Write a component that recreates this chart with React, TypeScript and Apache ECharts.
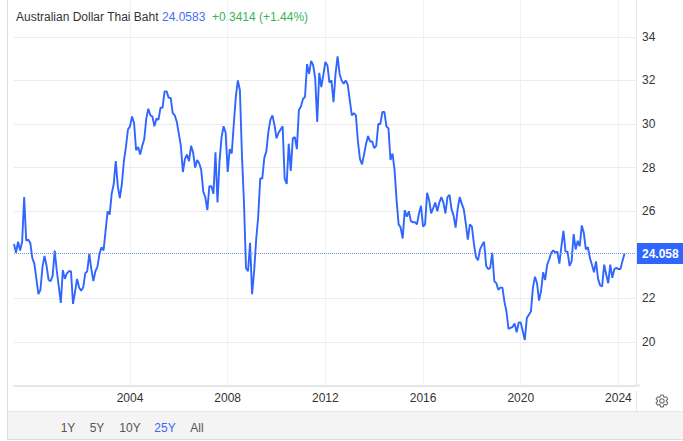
import React, { useEffect, useRef } from "react";
import * as echarts from "echarts";

const rates = [
  24.5, 24.1, 24.6, 24.2, 24.6, 26.65, 24.65, 24.7, 24.55, 23.85,
  23.6, 22.9, 22.2, 22.4, 23.45, 23.95, 23.5, 22.85, 22.8, 23.05,
  24.2, 23.3, 22.55, 21.8, 23.3, 22.9, 23.15, 23.25, 23.25, 21.75,
  22.3, 22.9, 22.5, 22.35, 22.5, 23.15, 23.25, 24.05, 23.35, 22.8,
  23.25, 23.45, 24.05, 24.35, 24.2, 25.1, 26.0, 25.85, 26.8, 27.25,
  28.3, 27.15, 26.6, 27.25, 28.3, 28.95, 29.75, 29.9, 30.35, 30.05,
  28.8, 28.95, 28.6, 29.0, 29.3, 30.25, 30.7, 30.4, 30.35, 29.9,
  30.25, 30.2, 30.75, 30.75, 31.5, 31.5, 31.2, 31.2, 30.5, 30.4,
  30.1, 29.55, 29.0, 27.8, 28.4, 28.6, 28.3, 29.0, 28.7, 28.0,
  28.35, 28.2, 27.9, 26.9, 26.65, 26.05, 27.15, 27.15, 26.8, 28.7,
  26.4, 28.3, 29.4, 29.9, 29.6, 27.8, 28.85, 28.65, 30.0, 31.25,
  32.0, 31.55, 28.6, 26.4, 23.4, 23.25, 24.55, 22.2, 23.25, 24.7,
  25.75, 27.5, 27.5, 28.45, 28.75, 29.65, 30.2, 30.4, 29.95, 29.35,
  29.6, 29.75, 29.9, 27.5, 27.25, 29.1, 27.85, 29.35, 29.4, 28.85,
  30.65, 30.8, 31.15, 31.25, 32.75, 32.3, 32.9, 32.7, 32.1, 30.1,
  32.35, 31.7, 32.25, 32.85, 32.7, 31.9, 32.0, 31.0, 32.3, 33.1,
  32.3, 32.0, 31.85, 32.0, 31.8, 31.1, 30.4, 30.5, 30.4, 29.2,
  28.4, 28.15, 28.6, 29.1, 29.45, 29.2, 29.2, 28.9, 29.0, 30.0,
  30.0, 30.55, 30.55, 29.9, 29.8, 28.35, 28.65, 27.9, 26.5, 25.4,
  25.25, 24.75, 26.05, 25.75, 26.0, 25.55, 25.5, 25.5, 25.4, 25.9,
  26.25, 25.3, 25.4, 26.85, 26.5, 25.9, 26.15, 26.4, 26.0, 26.4,
  26.65, 26.4, 25.9, 26.65, 26.75, 26.1, 25.8, 25.25, 26.1, 26.65,
  26.35, 26.1, 25.45, 24.7, 25.4, 25.3, 24.5, 23.9, 23.75, 24.25,
  24.45, 24.6, 23.5, 23.35, 23.4, 24.1, 22.8, 22.7, 22.4, 22.5,
  22.5, 21.85, 21.4, 20.6, 20.65, 20.7, 20.85, 20.45, 20.9, 20.9,
  20.5, 20.1, 21.1, 21.25, 21.4, 22.5, 23.0, 22.7, 21.9, 22.35,
  23.2, 22.85, 23.55, 23.8, 24.1, 24.2, 24.1, 24.15, 23.6, 24.4,
  25.1, 24.15, 24.15, 23.5, 23.7, 24.95, 24.25, 24.65, 24.4, 25.35,
  25.0, 24.25, 24.35, 23.85, 23.55, 23.2, 23.7, 22.9, 22.6, 22.55,
  23.55, 23.1, 22.7, 23.55, 22.95, 23.35, 23.4, 23.35, 23.35, 23.72,
  24.0583,
];
const firstYear = 1999;
const firstMonth = 3; // April, zero-based
const yearTicks = [2004, 2008, 2012, 2016, 2020, 2024];
const priceTicks = [20, 22, 26, 28, 30, 32, 34];
const lastPrice = 24.0583;
const titleParts = ["Australian Dollar Thai Baht", "24.0583", "+0.3414 (+1.44%)"];
const ranges = ["1Y", "5Y", "10Y", "25Y", "All"];
const activeRange = "25Y";

const FONT = '"Liberation Sans", Arial, sans-serif';
const BLUE = "#2f66ff";
const GEAR =
  "M19.14 12.94c.04-.3.06-.61.06-.94 0-.32-.02-.64-.07-.94l2.03-1.58c.18-.14.23-.41.12-.61l-1.92-3.32c-.12-.22-.37-.29-.59-.22l-2.39.96c-.5-.38-1.03-.7-1.62-.94l-.36-2.54c-.04-.24-.24-.41-.48-.41h-3.84c-.24 0-.43.17-.47.41l-.36 2.54c-.59.24-1.13.57-1.62.94l-2.39-.96c-.22-.08-.47 0-.59.22L2.74 8.87c-.12.21-.08.47.12.61l2.03 1.58c-.05.3-.09.63-.09.94s.02.64.07.94l-2.03 1.58c-.18.14-.23.41-.12.61l1.92 3.32c.12.22.37.29.59.22l2.39-.96c.5.38 1.03.7 1.62.94l.36 2.54c.05.24.24.41.48.41h3.84c.24 0 .44-.17.47-.41l.36-2.54c.59-.24 1.13-.56 1.62-.94l2.39.96c.22.08.47 0 .59-.22l1.92-3.32c.12-.22.07-.47-.12-.61l-2.01-1.58zM12 15.6c-1.98 0-3.6-1.62-3.6-3.6s1.62-3.6 3.6-3.6 3.6 1.62 3.6 3.6-1.62 3.6-3.6 3.6z";
echarts.graphic.registerShape("gear", echarts.graphic.extendPath(GEAR, {}) as any);

const rangeX = [68, 97, 130, 165, 197];

export default function App() {
  const ref = useRef<HTMLDivElement>(null);
  useEffect(() => {
    const chart = echarts.init(ref.current!, undefined, { renderer: "svg" });
    const line = (x1: number, y1: number, x2: number, y2: number, stroke = "#e4e4e4", lineWidth = 1) => ({
      type: "line",
      shape: { x1, y1, x2, y2 },
      style: { stroke, lineWidth },
      silent: true,
    });
    const text = (x: number, y: number, t: string, fill: string, textAlign = "left") => ({
      type: "text",
      x,
      y,
      style: { text: t, fill, font: `12px ${FONT}`, textAlign, textVerticalAlign: "middle" },
      silent: true,
    });
    chart.setOption({
      animation: false,
      backgroundColor: "#ffffff",
      grid: { left: 14, right: 47, top: 0, bottom: 55.3 },
      xAxis: {
        type: "value",
        min: 1999.25,
        max: 2024.72,
        axisLine: { lineStyle: { color: "#e6e6e6", width: 2 } },
        axisTick: { show: false, customValues: yearTicks },
        axisLabel: {
          customValues: yearTicks,
          formatter: (v: number) => String(v),
          color: "#333333",
          fontFamily: FONT,
          fontSize: 12,
          margin: 6,
        },
        splitLine: { show: true, lineStyle: { color: "#eff3f6", width: 1 } },
      },
      yAxis: {
        type: "value",
        position: "right",
        min: 18,
        max: 35.69,
        axisLine: { show: true, lineStyle: { color: "#e6e6e6", width: 1 } },
        axisTick: { show: false, customValues: priceTicks },
        axisLabel: {
          customValues: priceTicks,
          color: "#333333",
          fontFamily: FONT,
          fontSize: 12,
          margin: 6,
          padding: [0, 0, 2, 0],
        },
        splitLine: { show: true, lineStyle: { color: "#ececec", width: 1 } },
      },
      series: [
        {
          type: "line",
          data: rates.map((v, i) => [firstYear + (firstMonth + i) / 12, v]),
          showSymbol: false,
          smooth: false,
          lineStyle: { color: BLUE, width: 1.9 },
          markLine: {
            silent: true,
            symbol: "none",
            animation: false,
            lineStyle: { color: "#6f8fff", type: "dotted", width: 1, opacity: 1 },
            label: {
              position: "end",
              distance: 1,
              formatter: lastPrice.toFixed(3),
              color: "#ffffff",
              backgroundColor: BLUE,
              fontFamily: FONT,
              fontSize: 12,
              fontWeight: "bold",
              padding: [4, 6, 4, 5],
              lineHeight: 13,
              height: 13,
            },
            data: [{ yAxis: lastPrice }],
          },
        },
      ],
      graphic: [
        line(7.5, 0, 7.5, 440, "#dddddd"),
        {
          type: "rect",
          shape: { x: 8, y: 412, width: 675, height: 27 },
          style: { fill: "#f4f4f4" },
          silent: true,
        },
        line(8, 411.5, 683, 411.5, "#e6e6e6"),
        line(8, 439.5, 683, 439.5, "#dddddd"),
        line(636.5, 391, 636.5, 411, "#e6e6e6"),
        line(636, 385.5, 640, 385.5, "#e6e6e6", 2),
        text(16, 17, titleParts[0], "#333333"),
        text(162, 17, titleParts[1], "#4a6cf7"),
        text(212, 17, titleParts[2], "#35b558"),
        ...ranges.map((r, i) =>
          text(rangeX[i], 427.5, r, r === activeRange ? "#3d66f5" : "#555555", "center")
        ),
        {
          type: "gear",
          x: 654.5,
          y: 393.5,
          scaleX: 0.62,
          scaleY: 0.62,
          style: { fill: "none", stroke: "#707070", lineWidth: 1.8 },
          silent: true,
        },
      ],
    } as any);
    return () => chart.dispose();
  }, []);
  return <div ref={ref} style={{ position: "absolute", left: 0, top: 0, width: 683, height: 441 }} />;
}
